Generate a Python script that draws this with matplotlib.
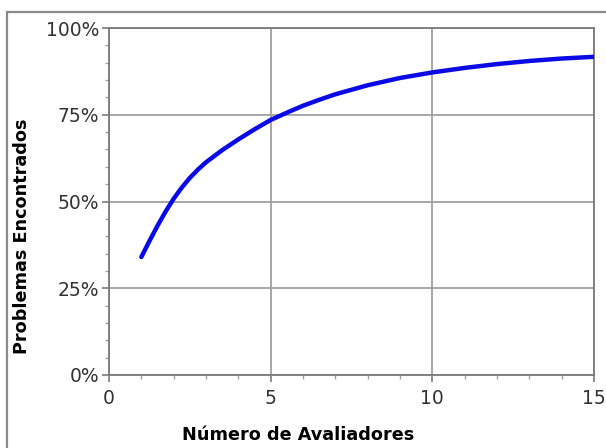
import matplotlib
matplotlib.use('Agg')
import matplotlib.pyplot as plt
from matplotlib.ticker import MultipleLocator, FuncFormatter
from matplotlib.patches import Rectangle

# número de avaliadores x problemas encontrados (%)
avaliadores = [1, 1.25, 1.5, 1.75, 2, 2.25, 2.5, 2.75, 3, 3.5, 4, 4.5, 5, 5.5,
               6, 6.5, 7, 8, 9, 10, 11, 12, 13, 14, 15]
problemas = [34, 38.6, 43, 47.1, 50.8, 54, 56.8, 59.2, 61.3, 64.8, 67.9, 70.8, 73.5, 75.6,
             77.6, 79.3, 80.9, 83.5, 85.6, 87.2, 88.5, 89.6, 90.5, 91.2, 91.7]

x_ticks = [0, 5, 10, 15]
y_ticks = [0, 25, 50, 75, 100]

fig = plt.figure(figsize=(6.06, 4.48), dpi=100)
W, H = 606, 448

# moldura externa (só esquerda e topo aparecem no recorte)
fig.patches.append(Rectangle((7 / W, -0.1), 1.2, 1.1 - 12 / H, transform=fig.transFigure,
                             fill=False, edgecolor='#8a8a8a', linewidth=1.6))

ax = fig.add_axes([109 / W, 1 - 375 / H, (594 - 109) / W, (375 - 28) / H])
ax.plot(avaliadores, problemas, color='#0a0ae6', linewidth=3.2, solid_capstyle='round',
        solid_joinstyle='round', zorder=3)

ax.set_xlim(0, 15)
ax.set_ylim(0, 100)
ax.set_xticks(x_ticks)
ax.set_yticks(y_ticks)
ax.xaxis.set_minor_locator(MultipleLocator(1))
ax.yaxis.set_minor_locator(MultipleLocator(5))
ax.yaxis.set_major_formatter(FuncFormatter(lambda v, p: '%d%%' % v))

ax.grid(True, which='major', color='#a0a0a0', linewidth=1.3)
ax.set_axisbelow(True)
for s in ax.spines.values():
    s.set_color('#7a7a7a')
    s.set_linewidth(1.3)

ax.tick_params(which='major', direction='out', length=5, width=1.2, color='#7a7a7a',
               labelsize=13.5, labelcolor='#333333', pad=2)
ax.tick_params(axis='x', which='major', pad=5)
ax.tick_params(which='minor', direction='out', length=3, width=1, color='#a0a0a0')

fig.text(298 / W, 1 - 435 / H, 'Número de Avaliadores', ha='center', va='center',
         fontsize=12.7, fontweight='bold', color='black')
fig.text(22 / W, 1 - 236 / H, 'Problemas Encontrados', ha='center', va='center',
         rotation=90, fontsize=12.7, fontweight='bold', color='black')

fig.savefig('out.png', dpi=100)
